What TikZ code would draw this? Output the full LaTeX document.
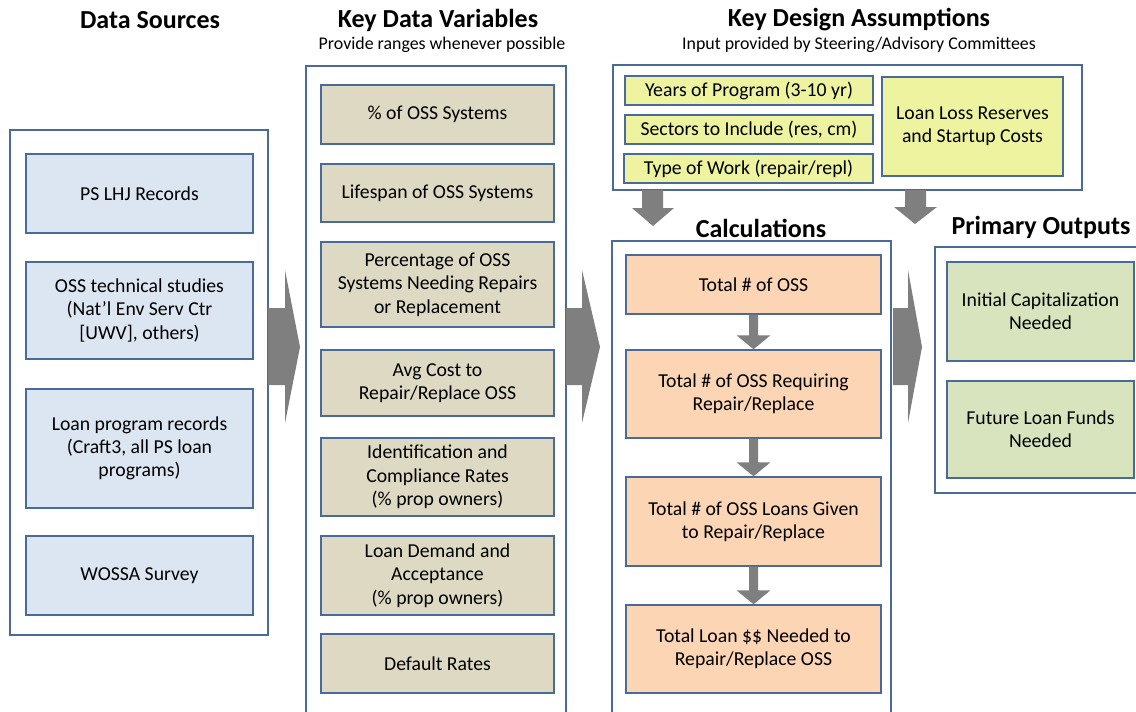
\documentclass[tikz,border=0pt]{standalone}
\usepackage{fontspec}
\setmainfont{Carlito}
\usetikzlibrary{calc}
\definecolor{edge}{HTML}{4A6A9A}
\definecolor{bluefill}{HTML}{DCE6F2}
\definecolor{tanfill}{HTML}{DDD9C3}
\definecolor{orangefill}{HTML}{FCD5B5}
\definecolor{yellowfill}{HTML}{EEF3A0}
\definecolor{greenfill}{HTML}{D7E4BD}
\definecolor{arrowgray}{HTML}{7F7F7F}
\newcommand\bx[7]{\node[#1, minimum width={(#4-#2)*0.75pt}, minimum height={(#5-#3)*0.75pt}] (#6) at ({(#2+#4)/2},{(#3+#5)/2}) {#7};}
\begin{document}
\begin{tikzpicture}[x=0.75pt,y=-0.75pt,
  box/.style={draw=edge, line width=1.1pt, inner sep=0pt, align=center, font=\fontsize{14.8}{17.5}\selectfont},
  outer/.style={box, fill=white},
  bluebox/.style={box, fill=bluefill},
  tanbox/.style={box, fill=tanfill},
  orbox/.style={box, fill=orangefill},
  yelbox/.style={box, fill=yellowfill},
  grbox/.style={box, fill=greenfill},
  head/.style={font=\fontsize{19.5}{22}\selectfont\bfseries},
  sub/.style={font=\fontsize{13.4}{15}\selectfont},
  blockarrow/.style={fill=arrowgray}]
\useasboundingbox (0,0) rectangle (1136,711);
\clip (0,0) rectangle (1136,711);
\fill[white] (0,0) rectangle (1136,711);

% headers
\node[head] (hds) at (150,20) {Data Sources};
\node[head] (hkv) at (438,20) {Key Data Variables};
\node[sub] (skv) at (442,45) {Provide ranges whenever possible};
\node[head] (hda) at (859,20) {Key Design Assumptions};
\node[sub] (sda) at (859,45) {Input provided by Steering/Advisory Committees};
\node[head] (hcalc) at (761,228) {Calculations};
\node[head] (hout) at (1041,227) {Primary Outputs};

% containers
\bx{outer}{10}{130}{268}{635}{cds}{}
\bx{outer}{306}{66}{566}{740}{ckv}{}
\bx{outer}{613}{65}{1082}{190}{cda}{}
\bx{outer}{612}{241}{891}{740}{ccalc}{}
\bx{outer}{935}{247}{1140}{493}{cout}{}

% data sources
\bx{bluebox}{26}{154}{253}{233}{ds1}{PS LHJ Records}
\bx{bluebox}{26}{262}{253}{359}{ds2}{OSS technical studies\\(Nat’l Env Serv Ctr\\{[UWV]}, others)}
\bx{bluebox}{26}{389}{253}{508}{ds3}{Loan program records\\(Craft3, all PS loan\\programs)}
\bx{bluebox}{26}{536}{253}{615}{ds4}{WOSSA Survey}

% key data variables
\bx{tanbox}{321}{85}{554}{144}{kv1}{\% of OSS Systems}
\bx{tanbox}{321}{164}{554}{222}{kv2}{Lifespan of OSS Systems}
\bx{tanbox}{321}{242}{554}{327}{kv3}{Percentage of OSS\\Systems Needing Repairs\\or Replacement}
\bx{tanbox}{321}{350}{554}{416}{kv4}{Avg Cost to\\Repair/Replace OSS}
\bx{tanbox}{321}{438}{554}{516}{kv5}{Identification and\\Compliance Rates\\(\% prop owners)}
\bx{tanbox}{321}{536}{554}{615}{kv6}{Loan Demand and\\Acceptance\\(\% prop owners)}
\bx{tanbox}{321}{634}{554}{693}{kv7}{Default Rates}

% design assumptions
\bx{yelbox}{625}{76}{873}{105}{da1}{Years of Program (3-10 yr)}
\bx{yelbox}{625}{115}{873}{144}{da2}{Sectors to Include (res, cm)}
\bx{yelbox}{624}{154}{873}{183}{da3}{Type of Work (repair/repl)}
\bx{yelbox}{882}{77}{1063}{176}{da4}{Loan Loss Reserves\\and Startup Costs}

% calculations
\bx{orbox}{626}{255}{881}{314}{c1}{Total \# of OSS}
\bx{orbox}{626}{350}{881}{438}{c2}{Total \# of OSS Requiring\\Repair/Replace}
\bx{orbox}{626}{477}{881}{566}{c3}{Total \# of OSS Loans Given\\to Repair/Replace}
\bx{orbox}{626}{605}{881}{693}{c4}{Total Loan \$\$ Needed to\\Repair/Replace OSS}

% outputs
\bx{grbox}{947}{262}{1134}{361}{o1}{Initial Capitalization\\Needed}
\bx{grbox}{947}{381}{1134}{478}{o2}{Future Loan Funds\\Needed}

% big right arrows
\fill[blockarrow] (268,308) -- (285,308) -- (285,270) -- (300,347) -- (285,423) -- (285,385) -- (268,385) -- cycle;
\fill[blockarrow] (566,308) -- (582,308) -- (582,270) -- (600,347) -- (582,423) -- (582,385) -- (566,385) -- cycle;
\fill[blockarrow] (893,308) -- (908,308) -- (908,270) -- (922,347) -- (908,423) -- (908,385) -- (893,385) -- cycle;

% down arrows from assumptions
\fill[blockarrow] (642,190) -- (663,190) -- (663,208) -- (674,208) -- (653,226) -- (632,208) -- (642,208) -- cycle;
\fill[blockarrow] (905,190) -- (926,190) -- (926,207) -- (937,207) -- (915,224) -- (894,207) -- (905,207) -- cycle;

% calc down arrows
\foreach \a/\b in {c1/c2,c2/c3,c3/c4}{
  \fill[blockarrow] ($(\a.south)+(-4.5,0)$) -- ($(\a.south)+(4.5,0)$) -- ($(\b.north)+(4.5,-14)$) -- ($(\b.north)+(17,-14)$) -- (\b.north) -- ($(\b.north)+(-17,-14)$) -- ($(\b.north)+(-4.5,-14)$) -- cycle;
}
\end{tikzpicture}
\end{document}
